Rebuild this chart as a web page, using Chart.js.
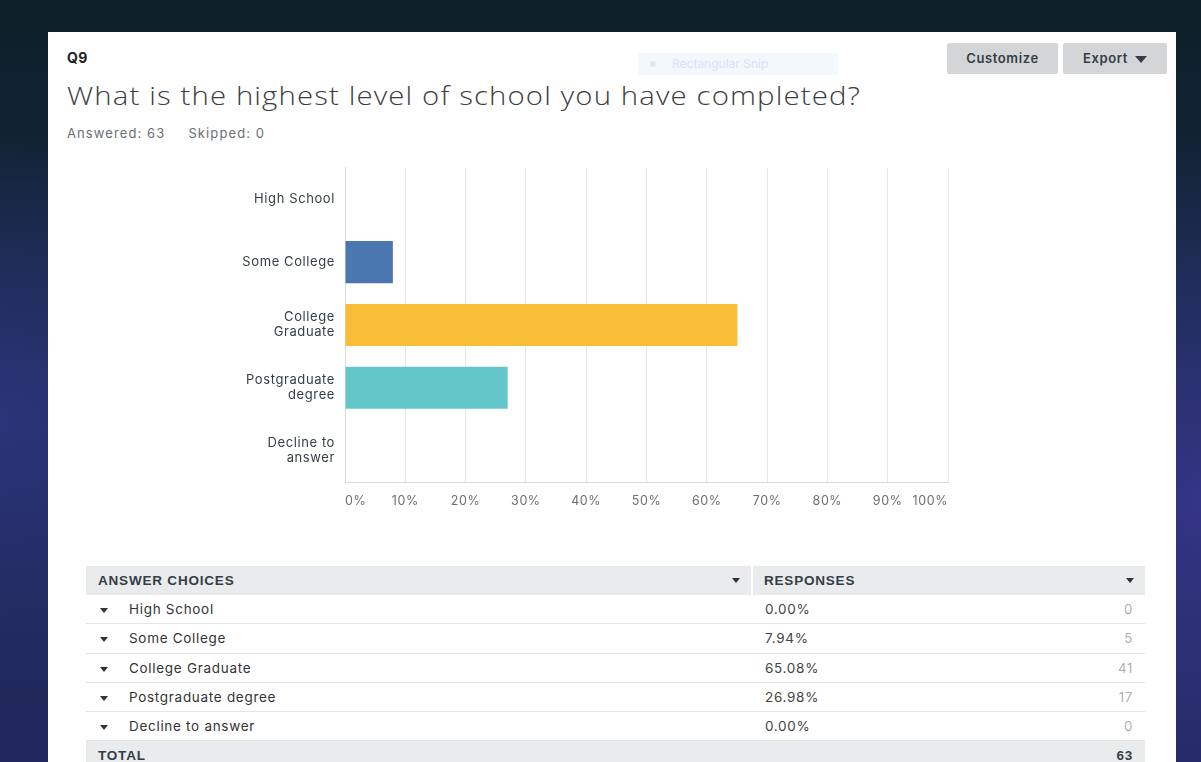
<!DOCTYPE html>
<html>
<head>
<meta charset="utf-8">
<script src="https://cdn.jsdelivr.net/npm/chart.js@4.4.1/dist/chart.umd.min.js"></script>
<style>
  html, body { margin:0; padding:0; }
  body {
    width:1201px; height:762px; overflow:hidden; position:relative;
    background:
      radial-gradient(ellipse 500px 400px at 0px 420px, rgba(60,60,160,0.55), rgba(0,0,0,0) 70%),
      radial-gradient(ellipse 400px 500px at 1201px 500px, rgba(70,60,170,0.6), rgba(0,0,0,0) 70%),
      linear-gradient(180deg, #0d1f27 0%, #152a45 40%, #22285e 100%);
    font-family: "Inter", "Open Sans", sans-serif;
  }
  #panel { position:absolute; left:48px; top:32px; width:1128px; height:740px; background:#fff; }
  .abs { position:absolute; white-space:nowrap; }
  #q { left:19px; top:17px; font:700 14px "Inter", sans-serif; color:#222; letter-spacing:0.3px; }
  #title { left:19px; top:45px; font:300 26px "Open Sans", sans-serif; color:#3b3e40; letter-spacing:1px; transform-origin:0 0; }
  #meta { left:19px; top:93px; font:400 13px "Inter", sans-serif; color:#6b6f72; letter-spacing:1.1px; }
  #meta span { margin-left:23px; }
  .btn { position:absolute; top:11px; height:31px; background:#d3d5d6; border-radius:2px;
         font:600 13px "Inter", sans-serif; color:#333e48; line-height:31px; text-align:center; letter-spacing:0.6px; }
  #snip { left:590px; top:21px; width:200px; height:22px; background:#f3f8fe;
          font:400 12px "Inter", sans-serif; color:#d6e3f0; line-height:22px; }
  #snip b { display:inline-block; width:6px; height:6px; border-radius:3px; background:#e0e8f2; margin:0 16px 1px 12px; }
  #chartWrap { position:absolute; left:172px; top:111px; width:780px; height:372px; }
  table { position:absolute; left:38px; top:534px; width:1059px; border-collapse:collapse; table-layout:fixed;
          font-family:"Inter", sans-serif; }
  td { height:28.3px; padding:0; border-bottom:1px solid #e3e4e5; font-size:13.5px; color:#333; letter-spacing:0.7px; }
  tr.hd td { height:29px; background:#eaebec; font:700 13.5px "Liberation Sans", Arial, sans-serif; color:#333e48; border-bottom:none; letter-spacing:0.8px; }
  tr.tot td { background:#eaebec; font:700 13.5px "Liberation Sans", Arial, sans-serif; color:#333e48; border-bottom:none; letter-spacing:0.8px; }
  .arr { display:inline-block; width:0; height:0; border-left:4.5px solid transparent; border-right:4.5px solid transparent;
         border-top:5px solid #333; vertical-align:middle; }
  .cnt { text-align:right; padding-right:12px; color:#9a9da0; font-weight:300; }
  .pct { color:#444; padding-left:13px; font-weight:400; }
</style>
</head>
<body>
<div id="panel">
  <div class="abs" id="q">Q9</div>
  <div class="abs" id="snip"><b></b>Rectangular Snip</div>
  <div class="btn" style="left:899px;width:111px;">Customize</div>
  <div class="btn" style="left:1015px;width:104px;">Export <span class="arr" style="border-left-width:6px;border-right-width:6px;border-top-width:7px;border-top-color:#333e48;margin-left:3px;"></span></div>
  <div class="abs" id="title">What is the highest level of school you have completed?</div>
  <div class="abs" id="meta">Answered: 63<span>Skipped: 0</span></div>
  <div id="chartWrap"><canvas id="c" width="780" height="372"></canvas></div>
  <table id="tbl">
    <colgroup><col style="width:666px"><col style="width:303px"><col style="width:90px"></colgroup>
  </table>
</div>
<script>
const categories = ["High School", "Some College", "College Graduate", "Postgraduate degree", "Decline to answer"];
const axisLabels = ["High School", "Some College", ["College", "Graduate"], ["Postgraduate", "degree"], ["Decline to", "answer"]];
const percents = [0.00, 7.94, 65.08, 26.98, 0.00];
const counts = [0, 5, 41, 17, 0];
const totalResponses = 63;
const barColors = ["#a0a0a0", "#4b77b1", "#f9bd38", "#63c7ca", "#8fb74e"];
const xTicks = [0, 10, 20, 30, 40, 50, 60, 70, 80, 90, 100];

// stretch title to reference width
const t = document.getElementById('title');
t.style.transform = 'scaleX(' + (794 / t.getBoundingClientRect().width) + ')';

// table
const tbl = document.getElementById('tbl');
let html = '<tr class="hd"><td style="padding-left:12px;position:relative;">ANSWER CHOICES<span class="arr" style="position:absolute;right:11px;top:12px;"></span></td>' +
           '<td colspan="2" style="border-left:2px solid #fff;padding-left:11px;position:relative;">RESPONSES<span class="arr" style="position:absolute;right:11px;top:12px;"></span></td></tr>';
categories.forEach((c, i) => {
  html += '<tr><td style="padding-left:14px;"><span class="arr" style="margin-right:21px;"></span>' + c + '</td>' +
          '<td class="pct">' + percents[i].toFixed(2) + '%</td><td class="cnt">' + counts[i] + '</td></tr>';
});
html += '<tr class="tot"><td style="padding-left:12px;">TOTAL</td><td></td><td class="cnt" style="color:#333e48;font-weight:700;">' + totalResponses + '</td></tr>';
tbl.insertAdjacentHTML('beforeend', html);

const spacingPlugin = {
  id: 'letterSpacing',
  beforeInit(chart) { chart.ctx.letterSpacing = '0.6px'; },
  beforeUpdate(chart) { chart.ctx.letterSpacing = '0.6px'; },
  beforeDraw(chart) { chart.ctx.letterSpacing = '0.6px'; }
};

new Chart(document.getElementById('c'), {
  type: 'bar',
  data: {
    labels: axisLabels,
    datasets: [{
      data: percents,
      backgroundColor: barColors,
      categoryPercentage: 1.0,
      barPercentage: 0.67,
      borderWidth: 0
    }]
  },
  plugins: [spacingPlugin],
  options: {
    indexAxis: 'y',
    responsive: false,
    animation: false,
    layout: { padding: { top: 0, right: 52, bottom: 0, left: 0 } },
    plugins: { legend: { display: false }, tooltip: { enabled: false } },
    scales: {
      x: {
        min: 0, max: 100,
        afterBuildTicks: (s) => { s.ticks = xTicks.map(v => ({ value: v })); },
        grid: { color: '#e6e7e8', drawTicks: false, lineWidth: 1 },
        border: { color: '#d9dadb' },
        ticks: { padding: 12, align: 'inner', color: '#6b6f72', font: { family: 'Inter', size: 12.5 },
                 callback: (v) => v + '%', maxRotation: 0, autoSkip: false },
        afterFit: (s) => { s.height = 33; }
      },
      y: {
        grid: { display: false, drawTicks: false },
        border: { color: '#d9dadb' },
        ticks: { padding: 10, color: '#333e48', font: { family: 'Inter', size: 13, lineHeight: 1.15 } },
        afterFit: (s) => { s.width = 125; }
      }
    }
  }
});
</script>
</body>
</html>
